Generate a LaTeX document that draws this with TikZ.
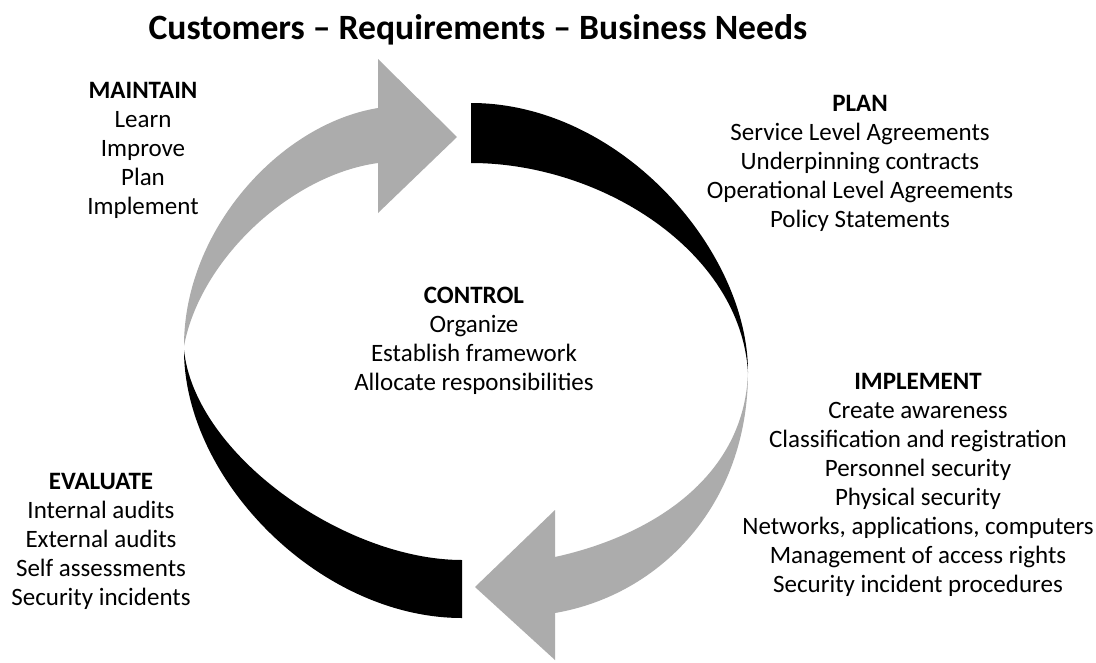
\documentclass[tikz,border=0pt]{standalone}
\usepackage{fontspec}
\setmainfont{Carlito}
\definecolor{arrowgray}{RGB}{172,172,172}
\begin{document}
\begin{tikzpicture}[x=1pt,y=-1pt,
  lbl/.style={align=center, inner sep=0pt, anchor=north, font=\fontsize{25}{29}\selectfont},
  ttl/.style={inner sep=0pt, anchor=north, font=\fontsize{35.6}{40}\selectfont\bfseries},
  grayarrow/.style={fill=arrowgray},
  blackband/.style={fill=black}]
\useasboundingbox (0,0) rectangle (1096,662);
\fill[white] (0,0) rectangle (1096,662);

% top-left gray arrow (MAINTAIN -> PLAN)
\fill[grayarrow] (184,346) .. controls (184,230) and (280,124) .. (378,108)
  -- (378,59) -- (457,137) -- (378,213) -- (378,163)
  .. controls (290,175) and (200,260) .. (184,346) -- cycle;
% top-right black band
\fill[blackband] (471,103) .. controls (620,103) and (748,250) .. (748,372)
  .. controls (740,250) and (600,163) .. (471,163) -- cycle;
% bottom-right gray arrow (IMPLEMENT -> EVALUATE)
\fill[grayarrow] (748,372) .. controls (748,505) and (660,595) .. (555,613)
  -- (555,660) -- (475,587) -- (555,510) -- (555,557)
  .. controls (655,535) and (745,475) .. (748,372) -- cycle;
% bottom-left black band
\fill[blackband] (462,618) .. controls (320,618) and (184,480) .. (184,350)
  .. controls (195,455) and (345,560) .. (462,560) -- cycle;

\node[ttl] (title) at (478,14) {Customers -- Requirements -- Business Needs};
\node[lbl] (maintain) at (143,82) {\textbf{MAINTAIN}\\Learn\\Improve\\Plan\\Implement};
\node[lbl] (plan) at (860,95) {\textbf{PLAN}\\Service Level Agreements\\Underpinning contracts\\Operational Level Agreements\\Policy Statements};
\node[lbl] (control) at (474,287) {\textbf{CONTROL}\\Organize\\Establish framework\\Allocate responsibilities};
\node[lbl] (implement) at (918,373) {\textbf{IMPLEMENT}\\Create awareness\\Classification and registration\\Personnel security\\Physical security\\Networks, applications, computers\\Management of access rights\\Security incident procedures};
\node[lbl] (evaluate) at (101,473) {\textbf{EVALUATE}\\Internal audits\\External audits\\Self assessments\\Security incidents};
\end{tikzpicture}
\end{document}
